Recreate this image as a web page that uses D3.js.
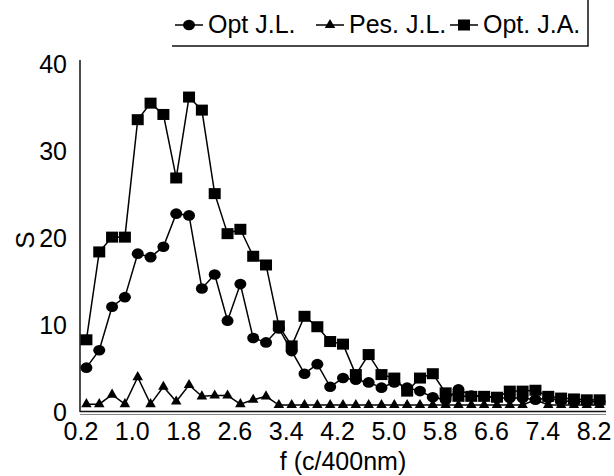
<!DOCTYPE html>
<html>
<head>
<meta charset="utf-8">
<script src="https://cdn.jsdelivr.net/npm/d3@7"></script>
<style>
    body { margin: 0; background: #fff; }
    svg { display: block; font-family: 'Liberation Sans', Arial, sans-serif; }
</style>
</head>
<body>
<div id="chart"></div>
<script>
'use strict';

// frequency categories (c/400nm)
const freqs = [0.2, 0.4, 0.6, 0.8, 1.0, 1.2, 1.4, 1.6, 1.8, 2.0, 2.2, 2.4, 2.6, 2.8, 3.0, 3.2, 3.4, 3.6,
    3.8, 4.0, 4.2, 4.4, 4.6, 4.8, 5.0, 5.2, 5.4, 5.6, 5.8, 6.0, 6.2, 6.4, 6.6, 6.8, 7.0, 7.2, 7.4, 7.6,
    7.8, 8.0, 8.2];
const xTickLabels = [0.2, 1.0, 1.8, 2.6, 3.4, 4.2, 5.0, 5.8, 6.6, 7.4, 8.2];
const yTickLabels = [0, 10, 20, 30, 40];

const optJL = [5.1, 7.1, 12.1, 13.2, 18.2, 17.8, 19.0, 22.8, 22.6, 14.2, 15.8, 10.5, 14.7, 8.5, 8.0,
    9.6, 7.0, 4.4, 5.5, 2.9, 3.9, 3.7, 3.4, 2.8, 3.4, 2.8, 2.4, 1.7, 1.4, 2.6, 1.9, 1.8, 1.6, 1.6, 1.6,
    1.4, 1.6, 1.3, 1.2, 1.2, 1.2];
const pesJL = [0.9, 0.9, 2.0, 0.9, 4.0, 0.9, 2.9, 1.2, 3.1, 1.8, 1.9, 1.9, 0.9, 1.4, 1.8, 0.8, 0.8,
    0.8, 0.8, 0.8, 0.8, 0.8, 0.8, 0.8, 0.8, 0.8, 0.8, 0.8, 0.8, 0.8, 0.8, 0.8, 0.8, 0.8, 0.8, 1.4, 0.8,
    0.8, 0.8, 0.8, 0.8];
const optJA = [8.3, 18.4, 20.1, 20.1, 33.6, 35.5, 34.2, 26.9, 36.2, 34.7, 25.1, 20.5, 21.0, 17.9, 16.9,
    9.9, 7.6, 11.0, 9.8, 8.1, 7.8, 4.3, 6.6, 4.3, 3.9, 2.4, 3.9, 4.4, 2.2, 1.8, 1.8, 1.8, 1.7, 2.4, 2.4,
    2.5, 1.8, 1.6, 1.5, 1.4, 1.4];

const seriesNames = ['Opt J.L.', 'Pes. J.L.', 'Opt. J.A.'];
const seriesValues = [optJL, pesJL, optJA];
const seriesShapes = ['circle', 'triangle', 'square'];

const chartWidth = 614, chartHeight = 476;
const plotLeft = 80, plotRight = 606, plotBottom = 412, plotTop = 64;

let svg = d3.select('#chart').append('svg')
    .attr('width', chartWidth)
    .attr('height', chartHeight);

let x = d3.scalePoint().domain(freqs).range([plotLeft, plotRight]).padding(0.5);
let y = d3.scaleLinear().domain([0, 40]).range([plotBottom, plotTop]);

// axes
let xAxis = svg.append('g')
    .attr('transform', `translate(0,${plotBottom})`)
    .call(d3.axisBottom(x).tickValues(xTickLabels).tickSize(0).tickFormat(d3.format('.1f')));
xAxis.select('.domain').remove();
xAxis.selectAll('text')
    .attr('y', 28).attr('dy', null).attr('dx', -6)
    .attr('fill', '#000')
    .style('font-size', '25px');

let yAxis = svg.append('g')
    .attr('transform', `translate(${plotLeft},0)`)
    .call(d3.axisLeft(y).tickValues(yTickLabels).tickSize(0));
yAxis.select('.domain').remove();
yAxis.selectAll('text')
    .attr('x', -13)
    .attr('fill', '#000')
    .style('font-size', '25px');

// axis lines (x axis is a double line in the original)
svg.append('line')
    .attr('x1', plotLeft).attr('x2', plotLeft).attr('y1', 60).attr('y2', plotBottom)
    .attr('stroke', '#111').attr('stroke-width', 1.5);
svg.append('line')
    .attr('x1', plotLeft).attr('x2', plotRight).attr('y1', plotBottom - 0.5).attr('y2', plotBottom - 0.5)
    .attr('stroke', '#111').attr('stroke-width', 1.5);
svg.append('line')
    .attr('x1', plotLeft).attr('x2', plotRight).attr('y1', plotBottom + 2.5).attr('y2', plotBottom + 2.5)
    .attr('stroke', '#888').attr('stroke-width', 1);

// axis titles
svg.append('text')
    .attr('x', (plotLeft + plotRight) / 2).attr('y', 470)
    .attr('text-anchor', 'middle')
    .style('font-size', '25px')
    .text('f (c/400nm)');
svg.append('text')
    .attr('transform', 'translate(25,240) rotate(-90)')
    .attr('text-anchor', 'middle')
    .attr('dominant-baseline', 'central')
    .style('font-size', '26px')
    .text('S');

function drawMarker(g, shape, cx, cy) {
    if (shape === 'circle') {
        g.append('ellipse').attr('cx', cx).attr('cy', cy).attr('rx', 6).attr('ry', 5.3).attr('fill', '#000');
    } else if (shape === 'square') {
        g.append('rect').attr('x', cx - 6).attr('y', cy - 5.5).attr('width', 12).attr('height', 11).attr('fill', '#000');
    } else {
        g.append('path')
            .attr('transform', `translate(${cx},${cy})`)
            .attr('d', d3.symbol(d3.symbolTriangle, 48)())
            .attr('fill', '#000');
    }
}

let line = d3.line()
    .x(function(d, i) { return x(freqs[i]); })
    .y(function(d) { return y(d); });

seriesValues.forEach(function(values, s) {
    let g = svg.append('g');
    g.append('path')
        .datum(values)
        .attr('d', line)
        .attr('fill', 'none')
        .attr('stroke', '#000')
        .attr('stroke-width', 1.5);
    values.forEach(function(v, i) {
        drawMarker(g, seriesShapes[s], x(freqs[i]), y(v));
    });
});

// legend
let legendLineStarts = [175, 316, 450];
let legend = svg.append('g');
seriesNames.forEach(function(name, s) {
    let x0 = legendLineStarts[s];
    legend.append('line')
        .attr('x1', x0).attr('x2', x0 + 28).attr('y1', 25).attr('y2', 25)
        .attr('stroke', '#000').attr('stroke-width', 1.5);
    drawMarker(legend, seriesShapes[s], x0 + 14, 25);
    legend.append('text')
        .attr('x', x0 + 33).attr('y', 33)
        .style('font-size', '25px')
        .text(name);
});
legend.append('polyline')
    .attr('points', '172,46 588,46 588,0')
    .attr('fill', 'none')
    .attr('stroke', '#111').attr('stroke-width', 1.5);
</script>
</body>
</html>
